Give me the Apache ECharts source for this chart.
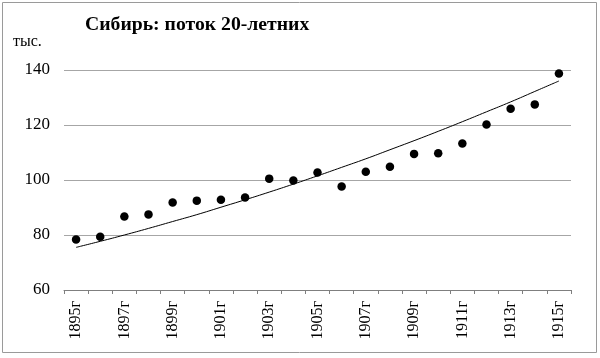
<!DOCTYPE html>
<html><head><meta charset="utf-8">
<script src="https://cdn.jsdelivr.net/npm/echarts@6/dist/echarts.min.js"></script>
<style>html,body{margin:0;padding:0;background:#fff}#c{width:600px;height:358px}</style>
</head><body><div id="c"></div>
<script>
var years = ['1895г','1896г','1897г','1898г','1899г','1900г','1901г','1902г','1903г','1904г','1905г','1906г','1907г','1908г','1909г','1910г','1911г','1912г','1913г','1914г','1915г'];
var flow = [78.4,79.4,86.7,87.5,91.8,92.5,92.8,93.6,100.5,99.8,102.7,97.6,103.0,104.8,109.5,109.7,113.3,120.2,125.9,127.5,138.7];
var trend = [75.5,77.7,80.0,82.4,84.9,87.4,90.1,92.8,95.6,98.5,101.5,104.6,107.7,111.0,114.3,117.7,121.2,124.8,128.4,132.2,136.0];
var yTicks = [60,80,100,120,140];
var titleText = 'Сибирь: поток 20-летних';
var unitText = 'тыс.';

var chart = echarts.init(document.getElementById('c'), null, {renderer:'canvas'});
var serif = 'Liberation Serif';
chart.setOption({
  animation:false,
  backgroundColor:'#fff',
  graphic:[{type:'rect',shape:{x:2.5,y:2.5,width:594,height:350},style:{fill:'none',stroke:'#9a9a9a',lineWidth:1}}],
  title:[{text:titleText,left:85,top:15,padding:0,textStyle:{fontFamily:serif,fontWeight:'bold',fontSize:19.7,color:'#000'}},
         {text:unitText,left:13,top:34,padding:0,textStyle:{fontFamily:serif,fontWeight:'normal',fontSize:16,color:'#000'}}],
  grid:{left:64,right:29,top:70,bottom:68,containLabel:false},
  xAxis:{type:'category',data:years,boundaryGap:true,
    axisLine:{lineStyle:{color:'#7f7f7f',width:1}},
    axisTick:{show:true,interval:0,length:4,lineStyle:{color:'#7f7f7f'}},
    axisLabel:{interval:1,rotate:90,margin:11,fontFamily:serif,fontSize:16,color:'#000'},
    splitLine:{show:false}},
  yAxis:{type:'value',min:yTicks[0],max:yTicks[yTicks.length-1],interval:20,
    axisLine:{show:false},axisTick:{show:false},
    axisLabel:{margin:14,fontFamily:serif,fontSize:17,color:'#000'},
    splitLine:{lineStyle:{color:'#a6a6a6',width:1}}},
  series:[
    {type:'line',data:trend,smooth:true,symbol:'none',lineStyle:{color:'#000',width:1},z:2},
    {type:'scatter',data:flow,symbol:'circle',symbolSize:8.5,itemStyle:{color:'#000',opacity:1},z:3}
  ]
});
</script></body></html>
